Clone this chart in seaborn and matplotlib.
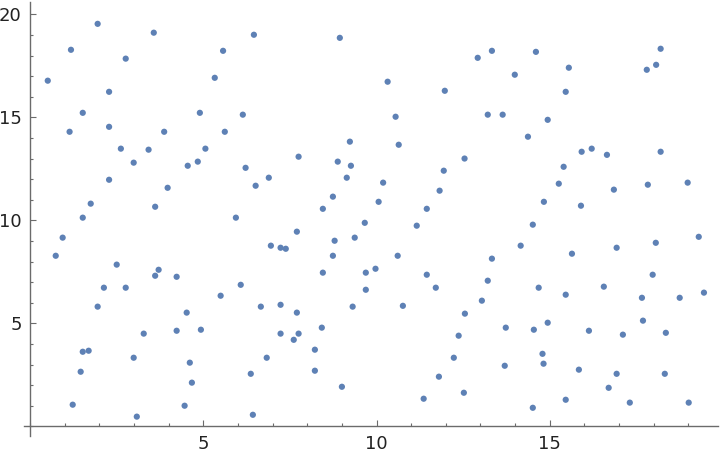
import numpy as np
import pandas as pd
import matplotlib
matplotlib.use("Agg")
import matplotlib.pyplot as plt
import seaborn as sns
from matplotlib.ticker import MultipleLocator

x_vals = [1.95, 3.57, 1.18, 2.76, 0.51, 2.28, 1.52, 4.90, 1.14, 2.28,
          3.87, 2.62, 3.42, 5.06, 6.46, 8.94, 5.57, 5.33, 6.14, 5.62,
          7.75, 9.23, 10.32, 11.97, 10.55, 10.64, 12.54, 12.92, 13.33, 13.99,
          14.60, 13.21, 13.64, 14.37, 14.94, 15.55, 15.46, 18.20, 18.07, 17.80,
          15.92, 16.21, 16.65, 18.20, 2.99, 4.55, 4.84, 2.28, 3.97, 1.75,
          3.61, 1.52, 0.94, 0.74, 2.50, 3.71, 3.61, 4.23, 2.13, 2.76,
          1.95, 6.22, 8.88, 9.26, 9.14, 6.89, 6.51, 8.74, 8.45, 5.94,
          9.66, 7.70, 8.79, 9.37, 6.95, 7.23, 7.38, 8.74, 8.45, 9.69,
          9.97, 6.08, 5.50, 9.69, 6.66, 7.23, 9.31, 11.94, 10.19, 11.82,
          10.06, 11.45, 14.83, 11.16, 14.51, 14.16, 10.61, 13.33, 11.45, 13.21,
          11.71, 14.68, 10.76, 13.04, 15.40, 15.26, 16.85, 17.83, 18.98, 15.90,
          19.30, 18.06, 16.93, 15.64, 17.97, 16.56, 15.46, 17.66, 18.75, 19.45,
          4.52, 3.28, 4.23, 4.93, 1.52, 1.69, 2.99, 4.61, 1.46, 4.67,
          1.23, 4.46, 3.08, 7.70, 7.23, 7.75, 8.42, 7.61, 8.22, 6.83,
          6.37, 8.22, 9.00, 6.43, 12.55, 13.73, 14.54, 12.37, 12.23, 13.70,
          14.79, 14.82, 11.80, 11.36, 12.52, 14.51, 14.94, 16.13, 17.11, 17.69,
          18.35, 15.84, 16.93, 18.32, 16.70, 15.46, 17.31, 19.01]

y_vals = [19.54, 19.11, 18.28, 17.85, 16.78, 16.24, 15.22, 15.22, 14.30, 14.54,
          14.30, 13.48, 13.43, 13.48, 19.01, 18.86, 18.23, 16.92, 15.13, 14.30,
          13.09, 13.82, 16.73, 16.29, 15.03, 13.67, 13.00, 17.89, 18.23, 17.07,
          18.18, 15.13, 15.13, 14.06, 14.88, 17.41, 16.24, 18.33, 17.55, 17.31,
          13.33, 13.48, 13.18, 13.33, 12.80, 12.65, 12.85, 11.97, 11.58, 10.81,
          10.66, 10.13, 9.16, 8.28, 7.85, 7.60, 7.31, 7.26, 6.73, 6.73,
          5.81, 12.55, 12.85, 12.65, 12.07, 12.07, 11.68, 11.15, 10.56, 10.13,
          9.88, 9.45, 9.01, 9.16, 8.77, 8.67, 8.62, 8.28, 7.46, 7.46,
          7.65, 6.87, 6.34, 6.63, 5.81, 5.90, 5.81, 12.41, 11.83, 11.44,
          10.90, 10.56, 10.90, 9.74, 9.79, 8.77, 8.28, 8.14, 7.36, 7.07,
          6.73, 6.73, 5.85, 6.10, 12.60, 11.78, 11.49, 11.73, 11.83, 10.71,
          9.20, 8.91, 8.67, 8.38, 7.36, 6.78, 6.39, 6.24, 6.24, 6.49,
          5.52, 4.50, 4.64, 4.69, 3.62, 3.67, 3.33, 3.09, 2.65, 2.12,
          1.05, 1.00, 0.47, 5.52, 4.50, 4.50, 4.79, 4.20, 3.72, 3.33,
          2.55, 2.70, 1.92, 0.56, 5.47, 4.79, 4.69, 4.40, 3.33, 2.94,
          3.52, 3.04, 2.41, 1.34, 1.63, 0.90, 5.03, 4.64, 4.45, 5.13,
          4.54, 2.75, 2.55, 2.55, 1.87, 1.29, 1.15, 1.15]

x_tick_labels = ["5", "10", "15"]
y_tick_labels = ["5", "10", "15", "20"]

df = pd.DataFrame({"x": x_vals, "y": y_vals})

sns.set_style("white")
plt.rcParams['font.family'] = ['DejaVu Sans']

fig = plt.figure(figsize=(7.2, 4.58), dpi=100)
W, H = 720, 458
left, right, top, bottom = 24.2, 718.5, 2.0, 436.0
ax = fig.add_axes([left / W, (H - bottom) / H, (right - left) / W, (bottom - top) / H])

sns.scatterplot(data=df, x="x", y="y", ax=ax, color="#5E81B5", s=20,
                linewidth=0, edgecolor="none", legend=False)

ax.set_xlim(-0.17, 19.87)
ax.set_ylim(-0.47, 20.6)

axis_color = "#6b6b6b"
ax.spines["left"].set_position(("data", 0))
ax.spines["bottom"].set_position(("data", 0))
ax.spines["top"].set_visible(False)
ax.spines["right"].set_visible(False)
for s in ("left", "bottom"):
    ax.spines[s].set_color(axis_color)
    ax.spines[s].set_linewidth(1.0)

ax.set_xticks([5, 10, 15])
ax.set_xticklabels(x_tick_labels)
ax.set_yticks([5, 10, 15, 20])
ax.set_yticklabels(y_tick_labels)
ax.xaxis.set_minor_locator(MultipleLocator(1))
ax.yaxis.set_minor_locator(MultipleLocator(1))
ax.tick_params(axis="both", which="major", direction="in", length=4.5, width=0.8,
               color=axis_color, labelsize=13, labelcolor="#222222", pad=6)
ax.tick_params(axis="both", which="minor", direction="in", length=2.5, width=0.8,
               color=axis_color)
ax.tick_params(axis="x", which="both", bottom=True, top=False)
ax.tick_params(axis="y", which="both", left=True, right=False)

ax.set_xlabel("")
ax.set_ylabel("")
ax.grid(False)

fig.savefig("out.png", dpi=100)
